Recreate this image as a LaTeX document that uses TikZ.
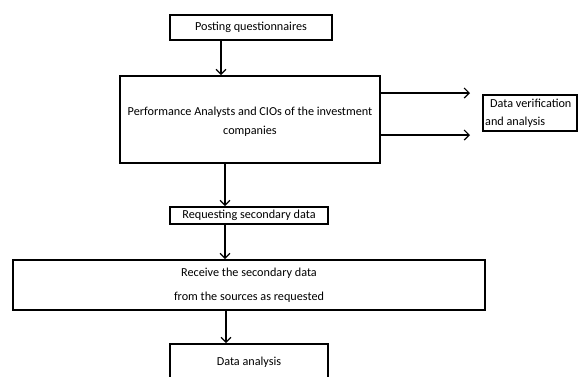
\documentclass[tikz,border=0pt]{standalone}
\usepackage{fontspec}
\setmainfont{Carlito}
\usetikzlibrary{arrows.meta}
\begin{document}
\begin{tikzpicture}[x=1pt,y=-1pt,
  box/.style={draw, line width=1.8pt, inner sep=0pt},
  txt/.style={inner sep=0pt, font=\fontsize{12.2}{14}\selectfont},
  arr/.style={line width=1.2pt, -{Straight Barb[length=5pt,width=10pt,line width=1.2pt]}}]
\useasboundingbox (0,0) rectangle (579,376);
\clip (0,0) rectangle (579,376);
\node[box, minimum width=162pt, minimum height=25pt] (b1) at (251,27.5) {};
\node[txt] (t1) at (b1.center) {Posting questionnaires};
\node[box, minimum width=260pt, minimum height=87pt] (b2) at (250,119.5) {};
\node[txt, align=center, font=\fontsize{12.2}{19}\selectfont] (t2) at (250,122) {Performance Analysts and CIOs of the investment\\companies};
\node[box, minimum width=94pt, minimum height=36pt] (b3) at (530,113) {};
\node[txt, align=left, anchor=west, font=\fontsize{12.2}{18}\selectfont] (t3) at (485,113) {\hspace*{5pt}Data verification\\and analysis};
\node[box, minimum width=158pt, minimum height=17pt] (b4) at (249,215.5) {};
\node[txt] (t4) at (b4.center) {Requesting secondary data};
\node[box, minimum width=472pt, minimum height=50pt] (b5) at (249,285) {};
\node[txt, align=center, font=\fontsize{12.2}{24}\selectfont] (t5) at (249,285) {Receive the secondary data\\from the sources as requested};
\node[box, minimum width=158pt, minimum height=50pt] (b6) at (249,369) {};
\node[txt] (t6) at (249,362) {Data analysis};
\coordinate (xa) at (221,0);
\coordinate (xb) at (225,0);
\coordinate (xc) at (226,0);
\coordinate (ya) at (0,93);
\coordinate (yb) at (0,135);
\coordinate (e1) at (470,93);
\coordinate (e2) at (470,135);
\draw[arr] (b1.south -| xa) -- (b2.north -| xa);
\draw[arr] (b2.east |- ya) -- (e1);
\draw[arr] (b2.east |- yb) -- (e2);
\draw[arr] (b2.south -| xb) -- (b4.north -| xb);
\draw[arr] (b4.south -| xb) -- (b5.north -| xb);
\draw[arr] (b5.south -| xc) -- (b6.north -| xc);
\end{tikzpicture}
\end{document}
